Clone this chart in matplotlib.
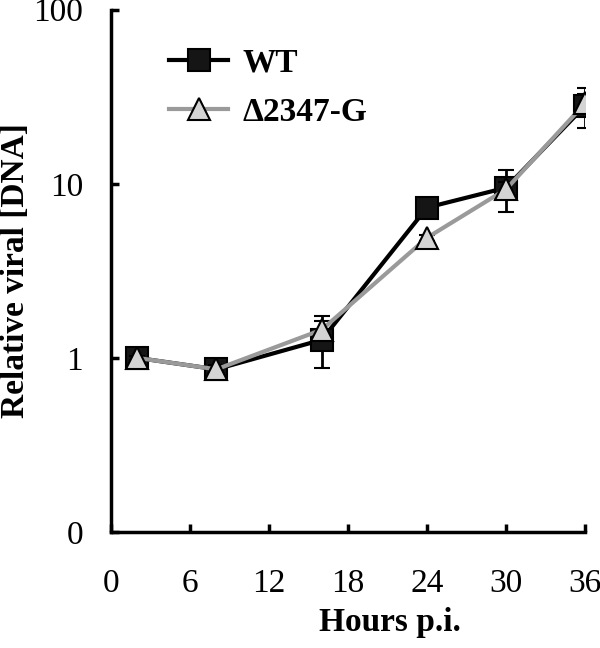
import matplotlib
matplotlib.use("Agg")
import matplotlib.pyplot as plt
from matplotlib.lines import Line2D
import numpy as np

hours = [2, 8, 16, 24, 30, 36]
wt_vals = [1.0, 0.86, 1.27, 7.3, 9.5, 28.0]
wt_err_low = [0.03, 0.07, 0.39, 0.3, 2.6, 7.0]
wt_err_high = [0.03, 0.07, 0.35, 0.3, 2.5, 5.0]
mut_vals = [1.0, 0.86, 1.45, 4.9, 9.3, 29.0]
mut_err_low = [0.03, 0.05, 0.15, 0.2, 1.0, 3.0]
mut_err_high = [0.03, 0.05, 0.3, 0.2, 1.0, 6.5]
xticks = [0, 6, 12, 18, 24, 30, 36]
yticks = [0.1, 1, 10, 100]
ytick_labels = ["0", "1", "10", "100"]
series_names = ["WT", "\u03942347-G"]

plt.rcParams['font.family'] = ['Liberation Serif', 'DejaVu Serif']

fig = plt.figure(figsize=(6, 6.48), dpi=100)
ax = fig.add_axes([0.185, 0.179, 0.79, 0.806])

wt_style = dict(color='black', lw=3.0, marker='s', ms=16, mfc='#151515', mec='black', mew=1.5)
mut_style = dict(color='#9a9a9a', lw=3.0, marker='^', ms=16, mfc='#d4d4d4', mec='black', mew=1.5)

ax.errorbar(hours, wt_vals, yerr=[wt_err_low, wt_err_high],
            ecolor='black', elinewidth=2.0, capsize=6, capthick=2.0,
            zorder=3, **wt_style)
ax.errorbar(hours, mut_vals, yerr=[mut_err_low, mut_err_high],
            ecolor='black', elinewidth=2.0, capsize=6, capthick=2.0,
            zorder=4, **mut_style)

ax.set_yscale('log')
ax.set_ylim(0.1, 100)
ax.set_xlim(0, 36)
ax.set_xticks(xticks)
ax.set_yticks(yticks)
ax.set_yticklabels(ytick_labels)
ax.yaxis.set_minor_locator(matplotlib.ticker.NullLocator())

for s in ['top', 'right']:
    ax.spines[s].set_visible(False)
for s in ['left', 'bottom']:
    ax.spines[s].set_linewidth(2.5)

ax.tick_params(axis='both', direction='in', length=6, width=2.5, labelsize=24)
ax.tick_params(axis='y', pad=20)
ax.tick_params(axis='x', pad=26)

ax.set_xlabel("Hours p.i.", fontsize=24, fontweight='bold')
ax.xaxis.set_label_coords(0.589, -0.143)
ax.set_ylabel("Relative viral [DNA]", fontsize=24, fontweight='bold')
ax.yaxis.set_label_coords(-0.168, 0.5)

handles = [Line2D([], [], **wt_style), Line2D([], [], **mut_style)]
ax.legend(handles, series_names, loc='upper left', bbox_to_anchor=(0.06, 0.985),
          frameon=False, handlelength=1.75, labelspacing=0.55, handletextpad=0.45,
          prop={'weight': 'bold', 'size': 24})

fig.savefig("out.png", dpi=100)
